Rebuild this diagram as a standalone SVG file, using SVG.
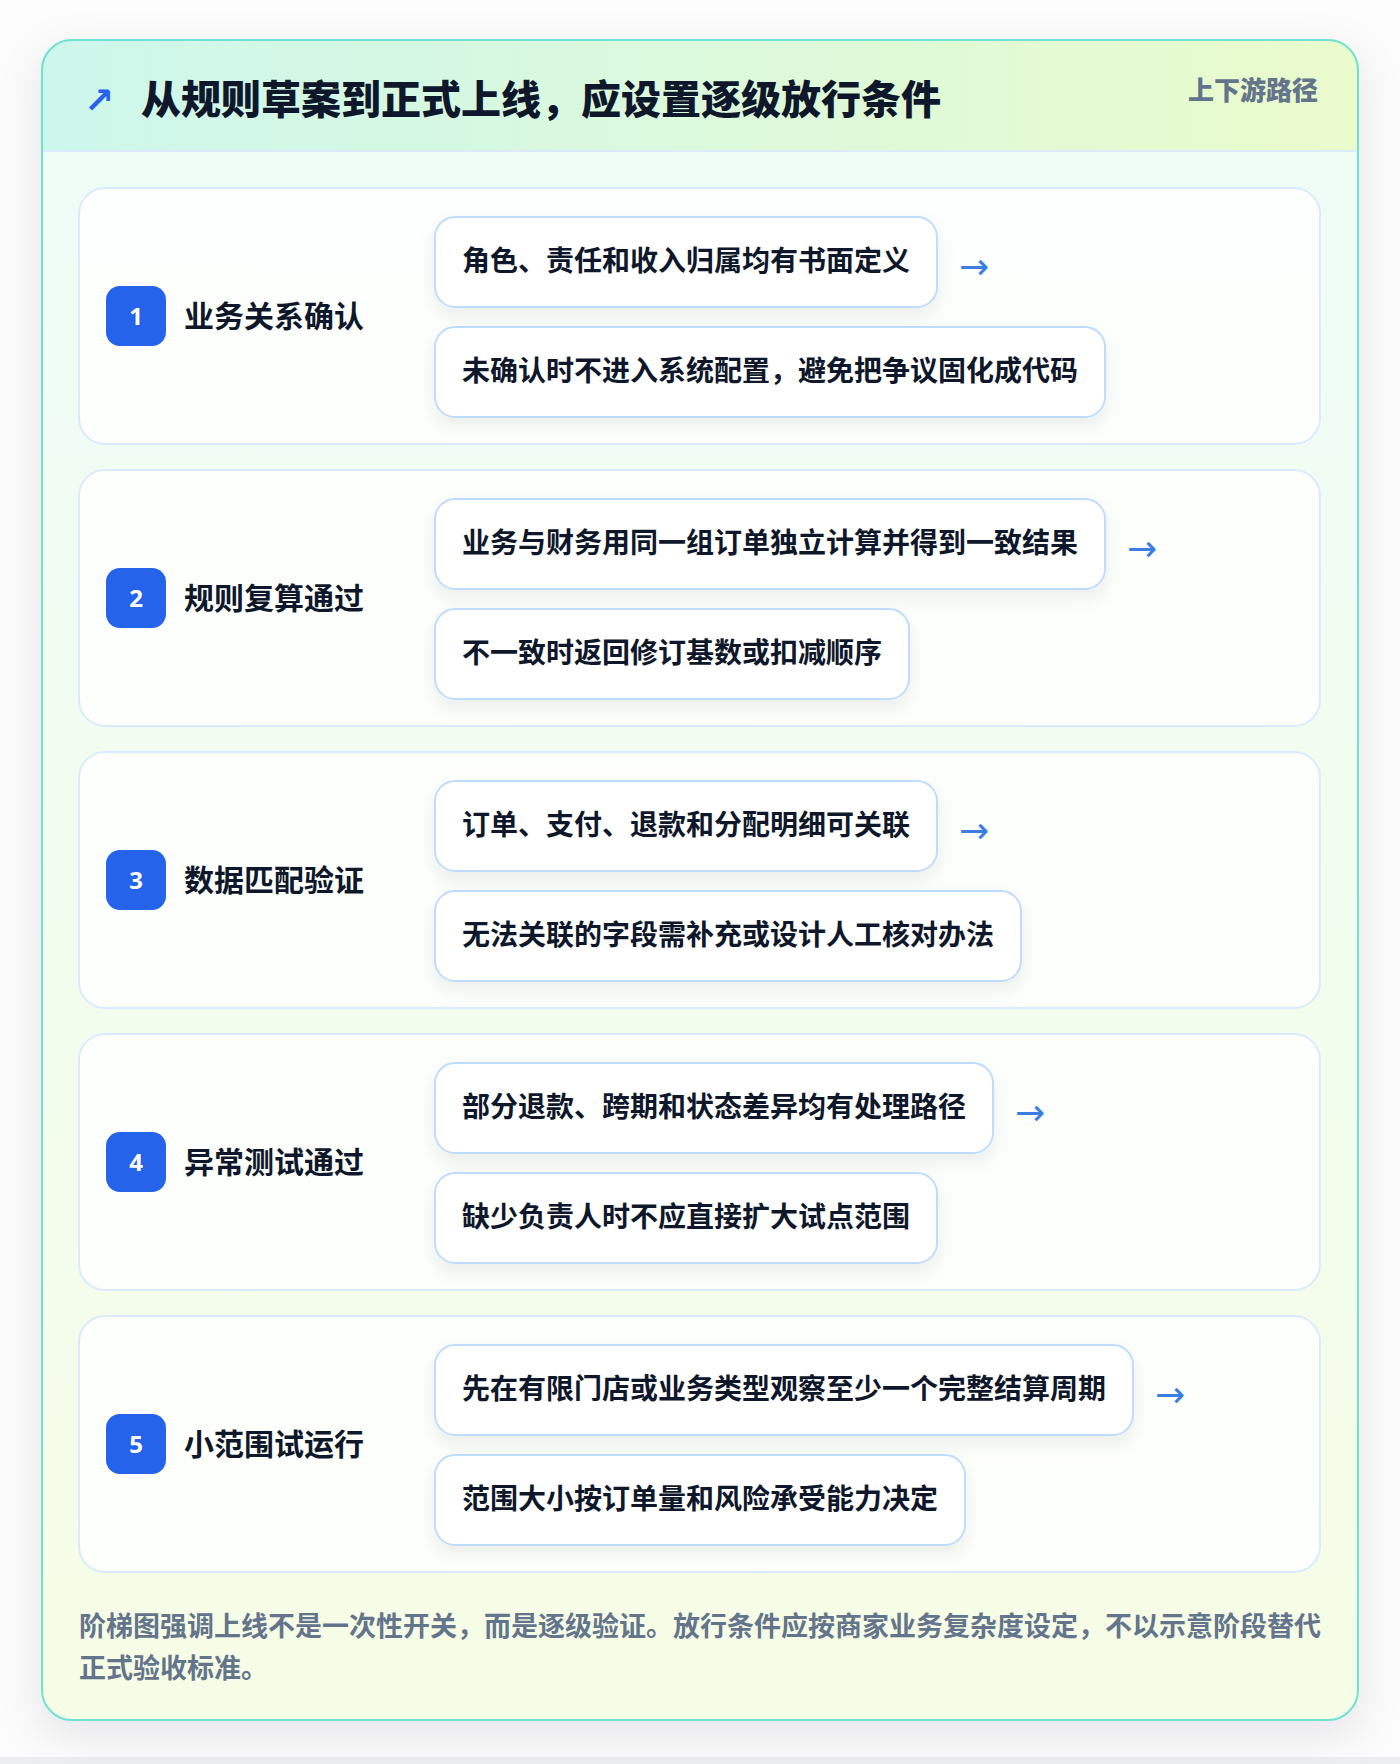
<svg xmlns="http://www.w3.org/2000/svg" width="1400" height="1764" viewBox="0 0 1400 1764">
<defs>
<linearGradient id="hdr" x1="0" y1="0" x2="1" y2="0">
<stop offset="0" stop-color="#cdf7ec"/>
<stop offset="1" stop-color="#eafbcc"/>
</linearGradient>
<linearGradient id="body" x1="0" y1="0" x2="0" y2="1">
<stop offset="0" stop-color="#effdf8"/>
<stop offset="1" stop-color="#f6fde6"/>
</linearGradient>
<clipPath id="cardclip"><rect x="42" y="40" width="1316" height="1680" rx="30"/></clipPath>
<filter id="cardsh" x="-10%" y="-10%" width="120%" height="120%">
<feDropShadow dx="0" dy="14" stdDeviation="22" flood-color="#0f172a" flood-opacity="0.10"/>
</filter>
<filter id="boxsh" x="-10%" y="-30%" width="120%" height="170%">
<feDropShadow dx="0" dy="8" stdDeviation="9" flood-color="#0f172a" flood-opacity="0.07"/>
</filter>
<style>
text{font-family:"Noto Sans CJK SC","Noto Sans",sans-serif;font-weight:700}
.row{fill:#ffffff;fill-opacity:0.82;stroke:#dbeafe;stroke-width:2}
.badge{fill:#2563eb}
.num{fill:#ffffff;font-size:24px;text-anchor:middle;font-family:"Noto Sans","Noto Sans CJK SC",sans-serif}
.lbl{fill:#0f172a;font-size:30px}
.box{fill:#ffffff;stroke:#bfdbfe;stroke-width:2}
.itm{fill:#0f172a;font-size:28px}
.arr{fill:#3b7de3;font-size:36px;font-family:"DejaVu Sans",sans-serif;font-weight:400}
</style>
</defs>
<rect x="0" y="0" width="1400" height="1764" fill="#fcfcfd"/>
<rect x="0" y="1757" width="1400" height="7" fill="#eceef2"/>
<g id="card">
<rect x="42" y="40" width="1316" height="1680" rx="30" fill="url(#body)" filter="url(#cardsh)"/>
<g clip-path="url(#cardclip)">
<rect x="42" y="40" width="1316" height="110" fill="url(#hdr)"/>
<rect x="42" y="150" width="1316" height="2" fill="#dbeafe"/>
</g>
<rect x="42" y="40" width="1316" height="1680" rx="30" fill="none" stroke="#6ee2cf" stroke-width="2"/>
</g>
<g id="header">
<text x="84" y="113" font-size="36" fill="#2563eb" style="font-family:'DejaVu Sans',sans-serif;font-weight:700">↗</text>
<text x="141" y="114" font-size="40" fill="#0f172a" style="font-weight:800">从规则草案到正式上线，应设置逐级放行条件</text>
<text x="1318" y="100" font-size="26" fill="#64748b" text-anchor="end" style="font-weight:800">上下游路径</text>
</g>
<g id="stage1">
<rect class="row" x="79" y="188" width="1241" height="256" rx="26"/>
<rect class="badge" x="106" y="286" width="60" height="60" rx="14"/>
<text class="num" x="136" y="325">1</text>
<text class="lbl" x="184" y="327">业务关系确认</text>
<rect class="box" x="435" y="217" width="502" height="90" rx="20" filter="url(#boxsh)"/>
<text class="itm" x="462" y="271">角色、责任和收入归属均有书面定义</text>
<rect class="box" x="435" y="327" width="670" height="90" rx="20" filter="url(#boxsh)"/>
<text class="itm" x="462" y="381">未确认时不进入系统配置，避免把争议固化成代码</text>
</g>
<g id="stage2">
<rect class="row" x="79" y="470" width="1241" height="256" rx="26"/>
<rect class="badge" x="106" y="568" width="60" height="60" rx="14"/>
<text class="num" x="136" y="607">2</text>
<text class="lbl" x="184" y="609">规则复算通过</text>
<rect class="box" x="435" y="499" width="670" height="90" rx="20" filter="url(#boxsh)"/>
<text class="itm" x="462" y="553">业务与财务用同一组订单独立计算并得到一致结果</text>
<rect class="box" x="435" y="609" width="474" height="90" rx="20" filter="url(#boxsh)"/>
<text class="itm" x="462" y="663">不一致时返回修订基数或扣减顺序</text>
</g>
<g id="stage3">
<rect class="row" x="79" y="752" width="1241" height="256" rx="26"/>
<rect class="badge" x="106" y="850" width="60" height="60" rx="14"/>
<text class="num" x="136" y="889">3</text>
<text class="lbl" x="184" y="891">数据匹配验证</text>
<rect class="box" x="435" y="781" width="502" height="90" rx="20" filter="url(#boxsh)"/>
<text class="itm" x="462" y="835">订单、支付、退款和分配明细可关联</text>
<rect class="box" x="435" y="891" width="586" height="90" rx="20" filter="url(#boxsh)"/>
<text class="itm" x="462" y="945">无法关联的字段需补充或设计人工核对办法</text>
</g>
<g id="stage4">
<rect class="row" x="79" y="1034" width="1241" height="256" rx="26"/>
<rect class="badge" x="106" y="1132" width="60" height="60" rx="14"/>
<text class="num" x="136" y="1171">4</text>
<text class="lbl" x="184" y="1173">异常测试通过</text>
<rect class="box" x="435" y="1063" width="558" height="90" rx="20" filter="url(#boxsh)"/>
<text class="itm" x="462" y="1117">部分退款、跨期和状态差异均有处理路径</text>
<rect class="box" x="435" y="1173" width="502" height="90" rx="20" filter="url(#boxsh)"/>
<text class="itm" x="462" y="1227">缺少负责人时不应直接扩大试点范围</text>
</g>
<g id="stage5">
<rect class="row" x="79" y="1316" width="1241" height="256" rx="26"/>
<rect class="badge" x="106" y="1414" width="60" height="60" rx="14"/>
<text class="num" x="136" y="1453">5</text>
<text class="lbl" x="184" y="1455">小范围试运行</text>
<rect class="box" x="435" y="1345" width="698" height="90" rx="20" filter="url(#boxsh)"/>
<text class="itm" x="462" y="1399">先在有限门店或业务类型观察至少一个完整结算周期</text>
<rect class="box" x="435" y="1455" width="530" height="90" rx="20" filter="url(#boxsh)"/>
<text class="itm" x="462" y="1509">范围大小按订单量和风险承受能力决定</text>
</g>
<g id="connectors">
<text class="arr" x="959" y="279">→</text>
<text class="arr" x="1127" y="561">→</text>
<text class="arr" x="959" y="843">→</text>
<text class="arr" x="1015" y="1125">→</text>
<text class="arr" x="1155" y="1407">→</text>
</g>
<g id="footer">
<text x="79" y="1636" font-size="27" fill="#64748b">阶梯图强调上线不是一次性开关，而是逐级验证。放行条件应按商家业务复杂度设定，不以示意阶段替代</text>
<text x="79" y="1678" font-size="27" fill="#64748b">正式验收标准。</text>
</g>
</svg>
